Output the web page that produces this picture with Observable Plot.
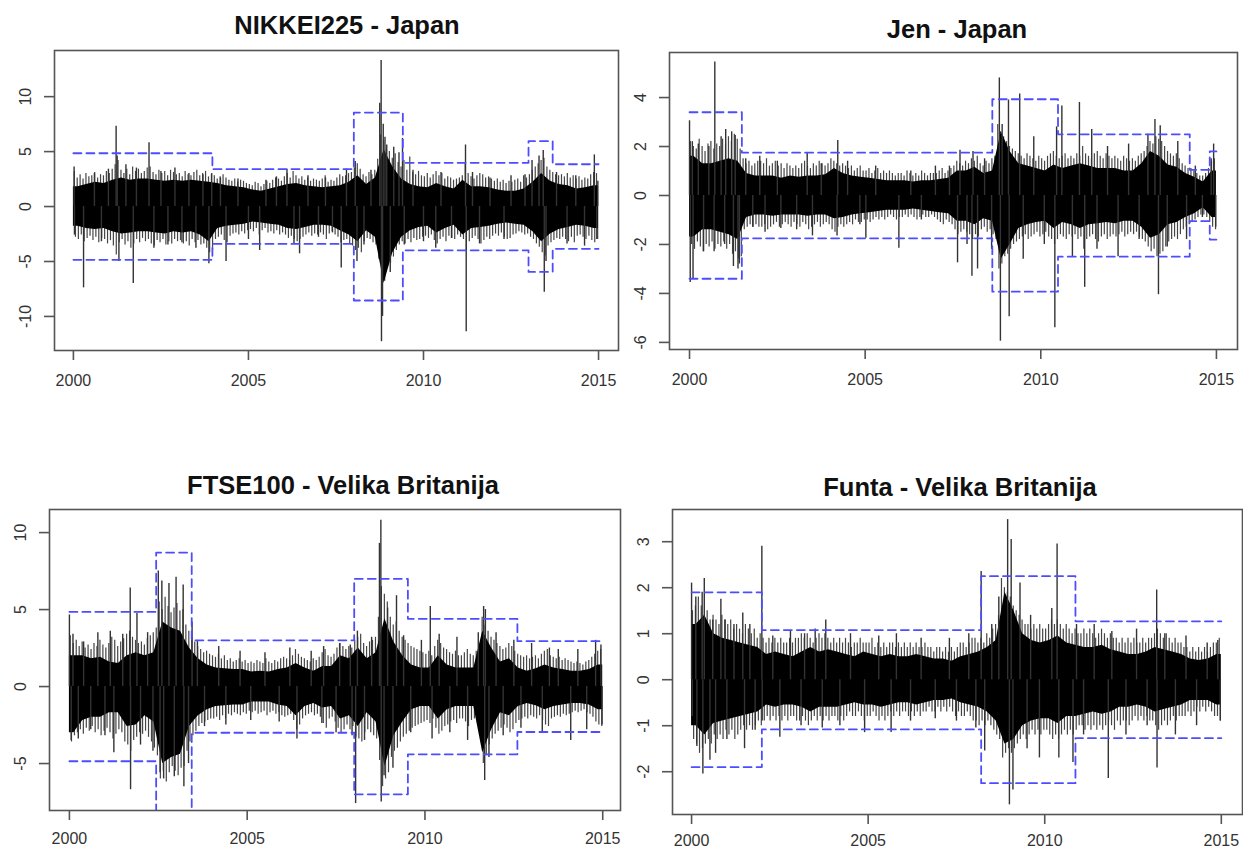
<!DOCTYPE html>
<html><head><meta charset="utf-8">
<script src="https://cdn.jsdelivr.net/npm/d3@7"></script>
<script src="https://cdn.jsdelivr.net/npm/@observablehq/plot@0.6"></script>
<style>
body{margin:0;background:#fff;}
#wrap{position:relative;width:1243px;height:851px;overflow:hidden;font-family:"Liberation Sans",Arial,sans-serif;}
.title{position:absolute;font-weight:bold;font-size:25.5px;line-height:1;color:#111;transform:translate(-50%,-50%);white-space:nowrap;}
.panel{position:absolute;}
</style></head><body><div id="wrap"></div>
<script>
// ---------- shared ----------
const yearTicks = [2000, 2005, 2010, 2015];

// ---------- NIKKEI225 - Japan ----------
const nikkeiTitle = "NIKKEI225 - Japan";
const nikkeiYTicks = [-10, -5, 0, 5, 10];
// dense core, quarterly
const nikkeiCoreHi = [1.8,2.0,2.2,2.1, 2.4,2.6,2.4,2.5, 2.5,2.4,2.3,2.4, 2.3,2.4,2.3,2.2, 2.1,1.9,1.8,1.7,
  1.5,1.4,1.6,1.8, 2.0,2.1,1.9,1.8, 1.7,1.8,1.9,2.2, 2.8,2.0,2.6,5.2, 3.6,2.5,2.0,1.8,
  1.7,2.1,1.8,1.6, 2.4,1.8,1.8,1.7, 1.5,1.4,1.4,1.6, 2.2,3.0,2.3,2.0, 1.9,1.6,1.7,1.9];
const nikkeiCoreLo = [-1.8,-2.0,-2.1,-2.0, -2.3,-2.5,-2.4,-2.3, -2.3,-2.4,-2.5,-2.3, -2.4,-2.3,-2.6,-3.2, -2.0,-1.8,-1.7,-1.6,
  -1.4,-1.5,-1.6,-1.7, -2.0,-2.1,-1.9,-1.7, -1.7,-1.8,-2.2,-2.6, -3.2,-2.2,-2.8,-7.0, -4.2,-2.8,-2.2,-1.9,
  -1.8,-2.4,-2.0,-1.7, -2.6,-2.0,-1.9,-1.8, -1.6,-1.5,-1.6,-1.7, -2.3,-3.2,-2.5,-2.1, -1.9,-1.7,-1.8,-2.0];
// typical monthly extent
const nikkeiFringeHi = [3.2,2.6,2.9,2.5,3.0,2.7,2.8,3.1,2.6,2.9,2.8,3.2, 3.0,3.4,3.8,4.2,3.3,3.0,3.4,2.9,3.6,3.2,3.4,3.0,
  3.2,3.5,3.6,3.1,2.9,3.3,3.0,3.2,2.8,3.3,3.1,2.9, 3.0,2.7,3.2,2.9,2.8,3.1,3.3,2.8,3.0,3.2,2.7,2.9,
  2.8,2.5,2.7,2.9,2.6,2.4,2.3,2.5,2.2,2.4,2.3,2.1, 2.0,1.9,2.2,2.1,1.8,2.0,2.3,2.1,2.4,2.6,2.5,2.3,
  2.7,3.0,2.6,3.2,2.8,2.5,2.7,2.4,2.6,2.3,2.5,2.4, 2.3,2.5,2.8,2.2,2.4,2.3,2.6,2.9,2.7,2.8,3.0,3.1,
  3.5,3.9,3.4,2.9,2.7,3.1,2.9,3.3,4.3,6.5,6.0,5.2, 5.0,4.4,4.8,4.0,3.6,4.2,3.3,4.5,3.1,2.9,3.2,2.8,
  2.7,3.0,2.6,2.9,3.2,2.8,3.0,2.5,2.7,2.6,2.4,2.5, 2.6,2.8,4.0,3.0,2.7,2.5,2.8,3.0,2.9,2.6,2.7,2.5,
  2.3,2.5,2.2,2.4,2.1,2.3,2.2,2.4,2.5,2.2,2.8,2.6, 2.9,3.3,3.6,3.9,4.2,4.4,3.6,3.3,3.1,2.9,2.8,2.9,
  2.7,3.0,2.6,2.8,2.5,2.7,2.4,2.6,2.5,2.9,3.1,3.0];
const nikkeiFringeLo = [-2.8,-3.0,-2.6,-3.2,-2.9,-2.7,-3.1,-2.8,-3.3,-2.9,-3.0,-3.4, -3.1,-3.6,-4.4,-3.3,-3.0,-3.5,-3.2,-3.8,-3.4,-3.0,-3.3,-2.9,
  -3.2,-3.0,-3.4,-3.6,-3.1,-3.3,-3.0,-3.5,-3.2,-3.4,-3.0,-3.2, -3.1,-3.4,-3.2,-3.6,-3.0,-3.3,-3.1,-3.5,-3.4,-3.8,-4.2,-4.0,
  -3.0,-2.8,-2.6,-3.1,-3.3,-2.7,-2.5,-2.4,-2.6,-2.3,-2.5,-2.2, -2.1,-2.3,-2.0,-2.6,-2.2,-2.0,-2.4,-2.3,-2.5,-2.2,-2.6,-2.4,
  -2.6,-2.9,-2.7,-3.0,-3.2,-3.0,-2.8,-2.6,-2.4,-2.7,-2.5,-2.6, -2.4,-2.6,-3.0,-2.5,-2.3,-2.6,-2.8,-3.3,-3.1,-3.0,-3.4,-3.6,
  -4.0,-3.8,-4.2,-3.2,-2.9,-3.0,-3.3,-3.5,-4.8,-7.5,-6.8,-5.5, -5.2,-4.6,-4.0,-3.5,-3.2,-3.4,-3.0,-3.3,-2.9,-3.1,-3.0,-2.8,
  -2.7,-2.9,-2.6,-3.1,-3.4,-3.0,-2.8,-3.2,-2.7,-2.9,-3.0,-2.6, -2.8,-3.0,-4.0,-3.2,-2.9,-2.7,-3.0,-3.4,-3.1,-2.8,-3.0,-2.7,
  -2.5,-2.7,-2.4,-2.8,-3.0,-2.9,-2.6,-2.5,-2.3,-2.4,-2.6,-2.5, -2.8,-3.0,-3.4,-3.7,-4.2,-4.5,-3.6,-3.3,-3.1,-2.9,-3.0,-2.8,
  -3.0,-3.2,-2.8,-3.3,-2.7,-2.6,-2.8,-3.0,-2.7,-3.1,-3.3,-3.0];
// isolated large returns [year, %]
const nikkeiSpikes = [[2000.02,3.6],[2000.03,-2.6],[2000.29,-7.4],[2000.6,3.0],[2000.8,-3.2],[2001.0,3.4],[2001.22,7.3],
  [2001.25,4.6],[2001.3,-5.0],[2001.5,3.8],[2001.71,-7.0],[2001.8,3.5],[2002.16,5.8],[2002.3,-3.8],[2002.5,3.2],
  [2002.7,-3.5],[2002.9,3.5],[2003.1,-3.3],[2003.3,3.0],[2003.5,-3.8],[2003.7,2.9],[2003.87,-5.2],[2003.95,3.0],
  [2004.36,-5.0],[2004.2,2.6],[2004.7,2.5],[2005.0,-3.0],[2005.32,-4.0],[2005.5,2.4],[2005.8,2.7],[2006.1,3.4],
  [2006.3,-3.4],[2006.46,-4.3],[2006.7,2.8],[2007.0,-2.8],[2007.2,2.6],[2007.4,-2.4],[2007.65,-5.6],[2007.8,3.4],
  [2008.05,4.1],[2008.1,-5.0],[2008.3,-3.5],[2008.5,3.3],[2008.75,9.4],[2008.79,13.3],[2008.8,-12.3],[2008.83,-10.0],
  [2008.85,7.5],[2008.9,6.3],[2008.95,5.6],[2009.05,-6.0],[2009.15,5.4],[2009.3,4.9],[2009.4,6.2],[2009.45,-3.5],
  [2009.7,3.3],[2010.0,-3.2],[2010.35,-3.8],[2010.5,3.1],[2010.8,-2.9],[2011.2,5.6],[2011.22,-11.4],[2011.4,3.1],
  [2011.6,-3.4],[2011.9,2.6],[2012.3,-3.0],[2012.5,2.8],[2012.9,2.9],[2013.1,4.2],[2013.3,4.6],[2013.42,5.1],
  [2013.45,-7.8],[2013.5,-5.0],[2013.8,3.1],[2014.1,-3.4],[2014.35,2.8],[2014.6,-3.6],[2014.88,4.7],[2014.95,-3.0],[2014.98,2.3]];
const nikkeiBreaks = [2000, 2003.97, 2008.01, 2009.41, 2013.0, 2013.69, 2015.0];
const nikkeiBand = [4.85, 3.4, 8.55, 3.98, 5.95, 3.85];

// ---------- Jen - Japan ----------
const jenTitle = "Jen - Japan";
const jenYTicks = [-6, -4, -2, 0, 2, 4];
const jenCoreHi = [1.6,1.3,1.3,1.4, 1.5,1.4,0.9,0.8, 0.8,0.8,0.7,0.8, 0.75,0.8,0.8,0.85, 1.1,0.9,0.8,0.75,
  0.7,0.65,0.6,0.6, 0.6,0.55,0.6,0.6, 0.65,0.7,1.0,1.0, 1.15,0.9,1.0,2.6, 1.8,1.3,1.2,1.1,
  1.0,1.25,1.1,1.2, 1.3,1.2,1.1,1.1, 1.1,1.0,1.0,1.3, 1.8,1.6,1.25,1.15, 0.9,0.75,0.55,1.0];
const jenCoreLo = [-1.7,-1.4,-1.4,-1.5, -1.6,-1.8,-0.9,-0.8, -0.8,-0.85,-0.8,-0.8, -0.8,-0.85,-0.8,-0.8, -0.95,-0.9,-0.8,-0.75,
  -0.7,-0.65,-0.6,-0.6, -0.6,-0.55,-0.6,-0.65, -0.7,-0.75,-1.05,-1.05, -1.2,-0.95,-1.05,-2.6, -2.0,-1.35,-1.2,-1.1,
  -1.05,-1.35,-1.1,-1.2, -1.35,-1.2,-1.15,-1.1, -1.15,-1.05,-1.05,-1.3, -1.75,-1.6,-1.2,-1.1, -0.9,-0.75,-0.5,-0.9];
const jenFringeHi = [2.2,2.0,1.9,2.3,2.0,1.8,2.1,2.2,1.9,2.1,2.0,2.3, 2.1,2.4,2.2,2.5,2.3,1.9,1.5,1.3,1.4,1.2,1.3,1.4,
  1.4,1.3,1.5,1.2,1.3,1.4,1.2,1.3,1.1,1.3,1.2,1.1, 1.2,1.1,1.3,1.4,1.2,1.1,1.3,1.2,1.4,1.3,1.2,1.3,
  1.5,1.4,1.3,1.2,1.3,1.2,1.1,1.2,1.0,1.1,1.2,1.0, 1.0,1.1,0.9,1.0,1.1,0.9,1.0,0.9,1.0,0.9,0.8,0.9,
  0.9,0.8,1.0,0.9,0.8,0.9,0.8,1.0,0.9,0.8,0.9,0.9, 0.9,1.0,1.1,0.9,1.0,1.1,1.2,1.4,1.3,1.2,1.4,1.3,
  1.5,1.4,1.6,1.3,1.2,1.4,1.3,1.5,1.6,2.9,2.6,2.4, 2.2,2.0,1.9,1.8,1.7,1.6,1.5,1.7,1.6,1.5,1.4,1.6,
  1.5,1.4,1.6,1.7,1.8,1.6,1.5,1.6,1.7,1.5,1.6,1.5, 1.7,1.6,2.0,1.7,1.6,1.5,1.7,1.8,1.6,1.5,1.7,1.6,
  1.5,1.6,1.5,1.4,1.6,1.5,1.4,1.5,1.4,1.6,1.7,1.8, 2.0,2.2,2.1,2.4,2.3,2.2,2.0,1.8,1.7,1.6,1.7,1.5,
  1.3,1.2,1.1,1.1,1.0,0.9,0.8,0.8,0.9,1.1,1.4,1.5];
const jenFringeLo = [-2.0,-2.2,-1.9,-2.1,-2.3,-2.0,-2.1,-1.9,-2.2,-2.0,-2.1,-1.9, -2.2,-2.0,-2.4,-2.3,-2.6,-2.5,-1.4,-1.3,-1.2,-1.3,-1.2,-1.3,
  -1.3,-1.2,-1.4,-1.3,-1.2,-1.1,-1.3,-1.2,-1.1,-1.2,-1.3,-1.1, -1.2,-1.3,-1.1,-1.2,-1.4,-1.3,-1.2,-1.1,-1.3,-1.2,-1.1,-1.2,
  -1.4,-1.5,-1.3,-1.2,-1.3,-1.2,-1.1,-1.2,-1.0,-1.1,-1.1,-1.0, -1.0,-1.1,-1.0,-0.9,-1.0,-0.9,-1.0,-0.9,-0.8,-0.9,-1.0,-0.9,
  -0.9,-0.8,-0.9,-0.8,-0.9,-1.0,-0.9,-0.8,-0.9,-0.9,-0.8,-0.9, -1.0,-1.1,-1.2,-1.0,-1.1,-1.2,-1.4,-1.6,-1.5,-1.4,-1.5,-1.6,
  -1.8,-1.6,-1.7,-1.4,-1.3,-1.5,-1.4,-1.6,-1.8,-3.0,-2.8,-2.5, -2.4,-2.2,-2.0,-1.9,-1.8,-1.7,-1.6,-1.8,-1.7,-1.6,-1.5,-1.7,
  -1.6,-1.5,-1.7,-1.8,-2.0,-1.8,-1.6,-1.7,-1.8,-1.6,-1.7,-1.6, -1.8,-1.7,-2.2,-1.8,-1.7,-1.6,-1.8,-1.9,-1.7,-1.6,-1.8,-1.7,
  -1.6,-1.7,-1.6,-1.5,-1.7,-1.6,-1.5,-1.6,-1.5,-1.7,-1.8,-1.9, -2.1,-2.3,-2.2,-2.5,-2.4,-2.3,-2.1,-1.9,-1.8,-1.7,-1.8,-1.6,
  -1.4,-1.3,-1.2,-1.1,-1.0,-0.9,-0.8,-0.8,-0.9,-1.1,-1.3,-1.4];
const jenSpikes = [[2000.0,3.05],[2000.02,-3.55],[2000.1,-3.4],[2000.08,2.2],[2000.25,2.1],[2000.4,-2.3],[2000.55,2.0],
  [2000.72,5.45],[2000.7,-2.3],[2000.9,2.4],[2001.0,-2.0],[2001.03,2.7],[2001.2,2.6],[2001.25,-2.9],[2001.3,2.45],
  [2001.38,-3.0],[2001.42,-2.8],[2001.6,1.5],[2001.8,-1.3],[2002.0,1.6],[2002.15,-1.5],[2002.5,1.4],[2002.6,-1.35],
  [2003.05,-1.4],[2003.35,1.75],[2003.5,-1.65],[2003.75,1.3],[2004.22,2.25],[2004.2,-1.65],[2004.5,1.4],[2004.85,-1.2],
  [2005.02,-1.75],[2005.3,1.2],[2005.96,-2.15],[2006.3,1.0],[2006.6,-1.0],[2007.0,1.2],[2007.4,1.2],[2007.63,-2.75],
  [2007.7,1.85],[2007.9,-2.0],[2008.04,-3.3],[2008.07,1.8],[2008.2,-3.0],[2008.4,1.5],[2008.6,-2.2],[2008.82,4.8],
  [2008.85,-5.95],[2008.9,2.9],[2009.08,3.9],[2009.1,-4.95],[2009.4,4.15],[2009.5,-2.6],[2009.8,2.4],[2010.1,-2.0],
  [2010.45,2.8],[2010.4,-5.4],[2010.6,3.65],[2010.9,-2.5],[2011.1,3.8],[2011.25,-3.75],[2011.45,2.7],[2011.6,-2.2],
  [2011.9,2.0],[2012.2,-2.5],[2012.5,2.1],[2012.8,-1.8],[2013.05,2.5],[2013.25,3.1],[2013.35,-4.05],[2013.4,2.85],
  [2013.6,-2.1],[2013.9,2.2],[2014.15,-1.8],[2014.4,1.2],[2014.6,-0.9],[2014.85,1.5],[2014.92,2.1],[2014.98,-1.3]];
const jenBreaks = [2000, 2001.49, 2008.62, 2010.49, 2014.24, 2014.81, 2015.0];
const jenBand = [3.4, 1.75, 3.93, 2.5, 1.05, 1.8];

// ---------- FTSE100 - Velika Britanija ----------
const ftseTitle = "FTSE100 - Velika Britanija";
const ftseYTicks = [-5, 0, 5, 10];
const ftseCoreHi = [2.0,2.0,1.8,1.9, 1.6,1.5,2.0,2.2, 2.0,2.2,4.2,3.8, 3.6,2.5,1.8,1.4, 1.2,1.15,1.1,1.1,
  0.95,1.0,0.95,1.1, 1.2,1.5,1.2,1.0, 1.3,1.3,2.0,1.8, 2.5,1.8,2.2,4.4, 2.9,2.0,1.4,1.2,
  1.2,2.0,1.4,1.2, 1.2,1.2,3.6,2.5, 1.6,1.8,1.2,1.0, 1.15,1.4,1.2,1.1, 1.0,1.0,1.1,1.4];
const ftseCoreLo = [-3.0,-2.2,-2.0,-2.0, -1.7,-1.7,-2.6,-2.5, -1.9,-2.3,-5.0,-4.6, -4.4,-2.6,-1.9,-1.5, -1.3,-1.25,-1.2,-1.2,
  -1.0,-1.0,-1.0,-1.2, -1.3,-1.9,-1.3,-1.1, -1.4,-1.3,-2.1,-1.9, -2.6,-1.7,-2.3,-5.2, -3.2,-2.3,-1.5,-1.3,
  -1.3,-2.1,-1.5,-1.3, -1.3,-1.3,-4.3,-2.8, -1.7,-1.9,-1.3,-1.1, -1.25,-1.5,-1.3,-1.2, -1.1,-1.1,-1.2,-1.5];
const ftseFringeHi = [3.3,2.8,3.0,2.6,2.9,2.5,2.7,2.4,2.8,2.6,3.0,2.7, 2.5,2.8,3.2,3.0,2.6,2.9,3.1,3.4,3.6,3.2,3.0,2.8,
  2.9,2.7,3.1,3.3,3.5,3.8,5.5,5.0,5.8,5.2,4.8,5.1, 5.4,4.9,5.0,4.0,3.6,3.2,2.9,2.6,2.4,2.2,2.3,2.1,
  2.0,1.9,2.1,1.8,2.0,1.7,1.8,1.6,1.7,1.8,1.6,1.7, 1.5,1.6,1.5,1.7,1.6,1.5,1.8,1.6,1.5,1.7,1.6,1.8,
  1.9,1.8,1.7,2.0,2.4,2.1,1.9,1.8,1.7,1.6,1.8,1.7, 1.9,2.2,2.4,2.0,1.9,2.1,2.5,2.8,2.6,2.4,2.6,2.5,
  3.0,3.2,3.4,2.8,2.6,2.9,3.0,3.2,4.5,6.5,6.0,5.5, 4.5,4.0,4.2,3.6,3.2,3.0,2.8,2.6,2.5,2.4,2.3,2.2,
  2.1,2.3,2.0,2.6,3.0,2.8,2.5,2.4,2.2,2.1,2.3,2.0, 2.0,2.2,2.4,2.1,2.0,2.3,2.6,4.5,4.0,3.6,3.2,3.0,
  2.8,2.6,2.4,2.5,2.8,2.6,2.3,2.1,2.0,1.9,2.0,1.8, 1.9,2.0,1.8,2.1,2.3,2.4,2.0,1.9,1.8,1.9,1.7,1.8,
  1.7,1.6,1.5,1.6,1.5,1.4,1.6,1.7,1.9,2.1,2.3,2.4];
const ftseFringeLo = [-3.6,-3.2,-3.0,-2.8,-3.1,-2.7,-2.9,-2.6,-3.0,-2.8,-3.2,-2.9, -2.7,-3.0,-3.4,-3.1,-2.8,-3.0,-3.6,-3.8,-4.2,-3.5,-3.3,-3.0,
  -3.1,-2.9,-3.3,-3.6,-4.0,-4.5,-6.0,-5.5,-6.2,-5.6,-5.2,-5.5, -5.8,-5.3,-5.2,-4.2,-3.6,-3.2,-2.9,-2.6,-2.4,-2.3,-2.2,-2.1,
  -2.1,-2.0,-2.2,-1.9,-2.1,-1.8,-1.9,-1.7,-1.8,-1.9,-1.7,-1.8, -1.6,-1.7,-1.6,-1.8,-1.7,-1.6,-1.9,-1.7,-1.6,-1.8,-1.7,-1.9,
  -2.0,-1.9,-1.8,-2.2,-2.8,-2.5,-2.1,-1.9,-1.8,-1.7,-1.9,-1.8, -2.0,-2.4,-2.7,-2.1,-2.0,-2.3,-2.7,-3.0,-2.8,-2.5,-2.8,-2.6,
  -3.3,-3.4,-3.6,-3.0,-2.8,-3.0,-3.2,-3.4,-4.8,-6.5,-6.0,-5.6, -4.6,-4.2,-4.0,-3.6,-3.3,-3.1,-2.9,-2.7,-2.6,-2.5,-2.4,-2.3,
  -2.2,-2.4,-2.1,-2.7,-3.1,-2.9,-2.6,-2.5,-2.3,-2.2,-2.4,-2.1, -2.1,-2.3,-2.6,-2.2,-2.1,-2.4,-2.8,-5.0,-4.5,-3.8,-3.4,-3.1,
  -2.9,-2.7,-2.5,-2.7,-3.0,-2.8,-2.4,-2.2,-2.1,-2.0,-2.1,-1.9, -2.0,-2.1,-1.9,-2.2,-2.5,-2.6,-2.1,-2.0,-1.9,-2.0,-1.8,-1.9,
  -1.8,-1.7,-1.6,-1.7,-1.6,-1.5,-1.7,-1.8,-2.0,-2.3,-2.5,-2.6];
const ftseSpikes = [[2000.0,4.65],[2000.05,-3.5],[2000.1,3.4],[2000.25,-3.4],[2000.4,2.9],[2000.6,-2.8],[2000.8,3.5],
  [2001.0,-3.2],[2001.15,3.6],[2001.25,-4.3],[2001.5,3.4],[2001.71,6.4],[2001.72,-6.7],[2001.9,4.75],[2002.0,-3.8],
  [2002.2,3.5],[2002.35,-4.2],[2002.5,7.5],[2002.55,-5.6],[2002.6,6.85],[2002.65,-6.0],[2002.8,6.7],[2002.95,-5.85],
  [2003.0,7.1],[2003.2,6.6],[2003.22,-6.5],[2003.35,-5.0],[2003.45,4.2],[2003.6,3.0],[2003.8,-2.6],[2004.2,2.6],
  [2004.4,-2.5],[2004.8,2.3],[2005.1,-2.2],[2005.5,2.2],[2005.9,-2.3],[2006.2,2.5],[2006.4,-3.4],[2006.8,2.3],
  [2007.1,-2.4],[2007.15,2.6],[2007.5,-3.0],[2007.6,2.8],[2007.9,2.7],[2007.95,-3.2],[2008.05,-7.6],[2008.1,3.6],
  [2008.3,-3.5],[2008.5,3.2],[2008.72,9.3],[2008.76,10.8],[2008.77,-7.5],[2008.85,-5.8],[2008.95,5.1],[2009.1,-5.3],
  [2009.2,5.9],[2009.4,3.3],[2009.6,-3.0],[2009.9,3.0],[2010.15,5.2],[2010.2,-3.4],[2010.4,3.4],[2010.7,-3.0],
  [2010.9,3.2],[2011.2,-3.5],[2011.5,3.5],[2011.65,5.2],[2011.7,5.0],[2011.68,-6.1],[2011.8,-4.6],[2012.0,3.5],
  [2012.2,-3.2],[2012.5,3.0],[2012.7,-2.7],[2013.0,2.8],[2013.3,-3.0],[2013.5,2.5],[2013.75,2.4],[2014.1,-3.5],
  [2014.3,2.4],[2014.55,-2.8],[2014.8,3.0],[2014.95,2.7],[2014.98,-2.5]];
const ftseBreaks = [2000, 2002.44, 2003.44, 2008.01, 2009.52, 2012.6, 2015.0];
const ftseBand = [4.85, 8.7, 3.0, 7.0, 4.4, 2.95];

// ---------- Funta - Velika Britanija ----------
const funtaTitle = "Funta - Velika Britanija";
const funtaYTicks = [-2, -1, 0, 1, 2, 3];
const funtaCoreHi = [1.2,1.4,1.0,0.9, 0.85,0.8,0.75,0.7, 0.55,0.6,0.55,0.5, 0.6,0.7,0.6,0.65, 0.6,0.55,0.5,0.6,
  0.55,0.5,0.55,0.5, 0.5,0.55,0.5,0.45, 0.45,0.4,0.5,0.55, 0.6,0.7,0.85,1.9, 1.5,1.0,0.85,0.8,
  0.85,0.95,0.8,0.75, 0.7,0.7,0.75,0.65, 0.6,0.55,0.55,0.6, 0.7,0.65,0.6,0.55, 0.45,0.42,0.45,0.55];
const funtaCoreLo = [-1.0,-1.2,-0.95,-0.9, -0.85,-0.8,-0.75,-0.7, -0.55,-0.6,-0.55,-0.55, -0.6,-0.7,-0.6,-0.6, -0.6,-0.55,-0.5,-0.55,
  -0.55,-0.6,-0.55,-0.5, -0.5,-0.55,-0.5,-0.45, -0.45,-0.42,-0.5,-0.55, -0.6,-0.7,-0.9,-1.4, -1.3,-1.0,-0.9,-0.85,
  -0.85,-0.95,-0.8,-0.8, -0.75,-0.7,-0.75,-0.7, -0.6,-0.6,-0.55,-0.6, -0.7,-0.65,-0.6,-0.55, -0.45,-0.45,-0.45,-0.55];
const funtaFringeHi = [1.5,1.6,1.8,1.6,1.4,1.5,1.3,1.4,1.3,1.2,1.4,1.3, 1.2,1.3,1.1,1.2,1.1,1.0,1.2,1.1,1.0,1.1,0.9,1.0,
  0.9,0.8,0.9,0.8,0.9,0.8,0.9,0.8,0.8,0.9,0.8,0.9, 0.9,1.0,0.9,1.0,0.9,0.8,0.9,1.0,0.9,1.0,0.9,0.8,
  0.9,0.8,0.9,0.8,0.9,0.8,0.7,0.8,0.8,0.9,0.8,0.8, 0.8,0.9,0.7,0.8,0.7,0.8,0.7,0.8,0.8,0.7,0.8,0.7,
  0.8,0.7,0.8,0.7,0.8,0.7,0.7,0.8,0.7,0.7,0.6,0.7, 0.7,0.6,0.7,0.6,0.7,0.6,0.7,0.8,0.8,0.7,0.8,0.9,
  0.9,0.8,0.9,0.8,1.0,0.9,1.1,1.2,1.4,2.2,2.0,1.9, 1.8,1.6,1.5,1.4,1.3,1.2,1.2,1.1,1.2,1.1,1.2,1.1,
  1.1,1.2,1.3,1.2,1.3,1.2,1.1,1.2,1.1,1.0,1.1,1.0, 1.0,1.1,1.0,1.1,1.0,0.9,1.0,1.1,1.0,0.9,1.0,0.9,
  0.9,0.8,0.9,0.8,0.9,0.8,0.9,0.8,0.8,0.9,0.8,0.9, 0.9,1.0,1.1,1.0,0.9,1.0,0.9,0.8,0.9,0.8,0.8,0.7,
  0.7,0.6,0.7,0.6,0.7,0.6,0.7,0.6,0.7,0.8,0.8,0.9];
const funtaFringeLo = [-1.3,-1.4,-1.6,-1.5,-1.4,-1.3,-1.4,-1.2,-1.3,-1.2,-1.3,-1.1, -1.2,-1.1,-1.3,-1.2,-1.1,-1.0,-1.1,-1.0,-1.1,-1.0,-0.9,-1.0,
  -0.9,-0.8,-0.9,-0.8,-0.9,-0.8,-0.9,-0.8,-0.9,-0.8,-0.8,-0.9, -0.9,-0.8,-0.9,-1.0,-0.9,-0.8,-0.9,-0.8,-0.9,-0.8,-0.9,-0.8,
  -0.8,-0.9,-0.8,-0.9,-0.8,-0.7,-0.8,-0.8,-0.7,-0.8,-0.9,-0.8, -0.8,-0.7,-0.8,-0.9,-0.8,-0.9,-0.8,-0.7,-0.8,-0.7,-0.8,-0.7,
  -0.7,-0.8,-0.7,-0.8,-0.7,-0.8,-0.7,-0.7,-0.6,-0.7,-0.7,-0.6, -0.7,-0.6,-0.7,-0.6,-0.7,-0.8,-0.7,-0.8,-0.8,-0.7,-0.8,-0.9,
  -0.9,-1.0,-0.9,-1.0,-0.9,-1.0,-1.1,-1.2,-1.3,-1.7,-1.6,-1.5, -1.6,-1.5,-1.4,-1.3,-1.2,-1.3,-1.2,-1.1,-1.2,-1.1,-1.2,-1.1,
  -1.1,-1.2,-1.3,-1.2,-1.3,-1.2,-1.1,-1.2,-1.1,-1.2,-1.1,-1.0, -1.0,-1.1,-1.0,-1.1,-1.0,-1.1,-1.0,-1.1,-1.0,-0.9,-1.0,-1.1,
  -0.9,-1.0,-0.9,-0.9,-1.0,-0.9,-0.8,-0.9,-0.8,-0.9,-0.8,-0.9, -0.9,-1.0,-1.1,-1.0,-0.9,-1.0,-0.9,-0.8,-0.9,-0.8,-0.8,-0.8,
  -0.7,-0.8,-0.7,-0.6,-0.7,-0.6,-0.7,-0.6,-0.7,-0.8,-0.8,-0.9];
const funtaSpikes = [[2000.0,2.1],[2000.02,-0.8],[2000.12,1.8],[2000.15,-1.45],[2000.3,1.9],[2000.36,2.2],[2000.32,-2.05],
  [2000.52,-1.75],[2000.6,1.3],[2000.68,-1.6],[2000.83,1.75],[2000.95,1.3],[2001.0,-1.3],[2001.2,1.2],[2001.45,1.45],
  [2001.5,-1.5],[2001.65,1.2],[2001.8,-1.1],[2001.99,2.9],[2002.0,-0.9],[2002.3,0.95],[2002.5,-1.25],[2002.8,1.05],
  [2003.1,-1.0],[2003.2,1.0],[2003.5,1.1],[2003.7,-1.05],[2003.8,1.3],[2004.2,-1.0],[2004.5,1.0],[2004.9,-1.15],
  [2005.3,0.95],[2005.65,-1.15],[2005.8,1.0],[2006.2,-0.9],[2006.5,0.9],[2006.9,-0.85],[2007.3,0.9],[2007.5,-0.9],
  [2007.85,1.0],[2008.05,-1.05],[2008.2,2.35],[2008.3,-1.55],[2008.5,1.2],[2008.7,1.8],[2008.95,3.48],[2009.0,-2.72],
  [2009.05,3.05],[2009.1,-2.4],[2009.3,2.1],[2009.5,-1.5],[2009.6,1.4],[2009.85,-1.7],[2010.2,1.55],[2010.35,2.95],
  [2010.4,-1.7],[2010.8,-1.8],[2010.9,1.2],[2011.1,-1.2],[2011.4,1.2],[2011.8,-2.15],[2011.9,1.05],[2012.3,-1.2],
  [2012.6,1.1],[2012.9,-1.0],[2013.17,1.95],[2013.18,-1.92],[2013.4,1.0],[2013.7,-1.2],[2014.0,0.95],[2014.3,-1.0],
  [2014.6,0.8],[2014.9,0.85],[2014.97,-0.9]];
const funtaBreaks = [2000, 2001.99, 2008.2, 2010.87, 2015.0];
const funtaBand = [1.9, 1.08, 2.25, 1.27];

// ---------- drawing ----------
function makePanel(o) {
  const coreData = [{t: 2000, hi: o.coreHi[0], lo: o.coreLo[0]}];
  o.coreHi.forEach((h, i) => coreData.push({t: 2000 + (i + 0.5) / 4, hi: h, lo: o.coreLo[i]}));
  coreData.push({t: 2015, hi: o.coreHi[o.coreHi.length - 1], lo: o.coreLo[o.coreLo.length - 1]});
  // monthly extents: upward strokes early in the month, downward strokes late in the month
  const fringeUp = o.fringeHi.map((h, i) => ({t: 2000 + (i + 0.3) / 12, v: h}));
  const fringeDown = o.fringeLo.map((l, i) => ({t: 2000 + (i + 0.7) / 12, v: l}));
  const upper = o.band.map((b, i) => ({t: o.breaks[i], v: b}));
  upper.push({t: o.breaks[o.breaks.length - 1], v: o.band[o.band.length - 1]});
  const lower = upper.map(d => ({t: d.t, v: -d.v}));
  const spikes = o.spikes.map(([t, v]) => ({t, v}));
  const bandStyle = {x: "t", y: "v", curve: "step-after", stroke: "#4d4dff", strokeWidth: 1.8, strokeDasharray: "8,5", clip: true};
  return Plot.plot({
    width: o.width, height: o.height,
    marginLeft: o.m[0], marginRight: o.m[1], marginTop: o.m[2], marginBottom: o.m[3],
    x: {domain: o.xDomain, label: null},
    y: {domain: o.yDomain, label: null},
    style: {fontFamily: "'Liberation Sans', Arial, sans-serif", background: "transparent", overflow: "visible"},
    marks: [
      Plot.ruleX(fringeUp, {x: "t", y1: 0, y2: "v", stroke: "#444", strokeWidth: 1.2}),
      Plot.ruleX(fringeDown, {x: "t", y1: 0, y2: "v", stroke: "#444", strokeWidth: 1.2}),
      Plot.areaY(coreData, {x: "t", y1: "lo", y2: "hi", fill: "#000"}),
      Plot.ruleX(spikes, {x: "t", y1: 0, y2: "v", stroke: "#333", strokeWidth: 1.4}),
      Plot.line(upper, bandStyle),
      Plot.line(lower, bandStyle),
      Plot.frame({stroke: "#555", strokeWidth: 1.6}),
      Plot.axisX({ticks: yearTicks, tickSize: 10, tickFormat: () => "", label: null, stroke: "#555", strokeWidth: 1.6}),
      Plot.axisY({ticks: o.yTicks, tickSize: 10, tickFormat: () => "", label: null, stroke: "#555", strokeWidth: 1.6}),
      Plot.text(yearTicks, {x: d => d, frameAnchor: "bottom", dy: o.xLabelDy, text: d => String(d), fontSize: 16, fill: "#333", lineAnchor: "middle"}),
      Plot.text(o.yTicks, {y: d => d, frameAnchor: "left", dx: -29, rotate: -90, text: d => String(d), fontSize: 16, fill: "#333", lineAnchor: "middle", textAnchor: "middle"})
    ]
  });
}

const panels = [
  {title: nikkeiTitle, left: 0, top: 0, width: 625, height: 400, m: [54, 7, 50, 50], xDomain: [1999.46, 2015.57], yDomain: [-13.1, 14.2], xLabelDy: 30,
   yTicks: nikkeiYTicks, coreHi: nikkeiCoreHi, coreLo: nikkeiCoreLo, fringeHi: nikkeiFringeHi, fringeLo: nikkeiFringeLo,
   spikes: nikkeiSpikes, breaks: nikkeiBreaks, band: nikkeiBand, tx: 347, ty: 26},
  {title: jenTitle, left: 620, top: 0, width: 623, height: 400, m: [49, 6, 52, 51], xDomain: [1999.43, 2015.6], yDomain: [-6.29, 5.84], xLabelDy: 30,
   yTicks: jenYTicks, coreHi: jenCoreHi, coreLo: jenCoreLo, fringeHi: jenFringeHi, fringeLo: jenFringeLo,
   spikes: jenSpikes, breaks: jenBreaks, band: jenBand, tx: 957, ty: 30},
  {title: ftseTitle, left: 0, top: 450, width: 625, height: 400, m: [49, 5, 59, 40], xDomain: [1999.44, 2015.5], yDomain: [-8.05, 11.5], xLabelDy: 28,
   yTicks: ftseYTicks, coreHi: ftseCoreHi, coreLo: ftseCoreLo, fringeHi: ftseFringeHi, fringeLo: ftseFringeLo,
   spikes: ftseSpikes, breaks: ftseBreaks, band: ftseBand, tx: 343, ty: 486},
  {title: funtaTitle, left: 620, top: 450, width: 623, height: 400, m: [52, 1, 59, 36], xDomain: [1999.46, 2015.6], yDomain: [-2.93, 3.7], xLabelDy: 26,
   yTicks: funtaYTicks, coreHi: funtaCoreHi, coreLo: funtaCoreLo, fringeHi: funtaFringeHi, fringeLo: funtaFringeLo,
   spikes: funtaSpikes, breaks: funtaBreaks, band: funtaBand, tx: 960, ty: 488}
];

const wrap = document.getElementById("wrap");
for (const p of panels) {
  const div = document.createElement("div");
  div.className = "panel";
  div.style.left = p.left + "px";
  div.style.top = p.top + "px";
  div.appendChild(makePanel(p));
  wrap.appendChild(div);
  const t = document.createElement("div");
  t.className = "title";
  t.textContent = p.title;
  t.style.left = p.tx + "px";
  t.style.top = p.ty + "px";
  wrap.appendChild(t);
}
</script></body></html>
